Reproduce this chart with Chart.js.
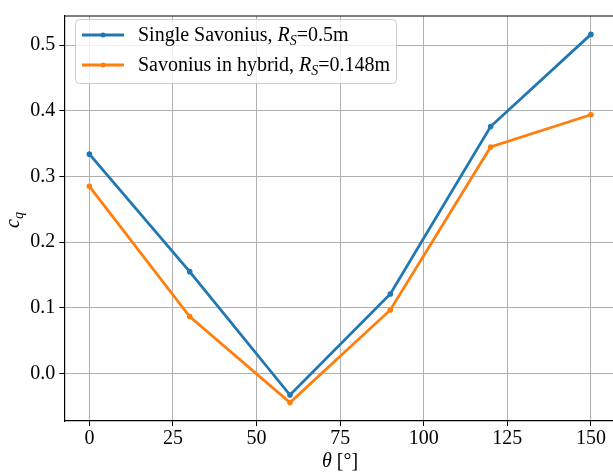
<!DOCTYPE html>
<html>
<head>
<meta charset="utf-8">
<script src="https://cdn.jsdelivr.net/npm/chart.js@4/dist/chart.umd.min.js"></script>
<style>
  html, body { margin: 0; padding: 0; background: #fff; overflow: hidden; }
  canvas { display: block; }
</style>
</head>
<body>
<canvas id="myChart" width="620" height="472"></canvas>
<script>
// datos
const theta = [0, 30, 60, 90, 120, 150];
const cqSingle = [0.334, 0.155, -0.033, 0.121, 0.376, 0.5165];
const cqHybrid = [0.285, 0.0866, -0.0446, 0.0966, 0.345, 0.394];
const xTicks = [0, 25, 50, 75, 100, 125, 150];
const yTicks = [0.0, 0.1, 0.2, 0.3, 0.4, 0.5];
// etiquetas de la leyenda: [texto, estilo]
const labelSingle = [['Single Savonius, ', 'n'], ['R', 'i'], ['S', 'sub'], ['=0.5m', 'n']];
const labelHybrid = [['Savonius in hybrid, ', 'n'], ['R', 'i'], ['S', 'sub'], ['=0.148m', 'n']];

const SERIF = '"Liberation Serif", "DejaVu Serif", serif';
const BLUE = '#1f77b4';
const ORANGE = '#ff7f0e';

function fontFor(style) {
    if (style === 'i') return 'italic 20px ' + SERIF;
    if (style === 'sub') return 'italic 14px ' + SERIF;
    return '20px ' + SERIF;
}

function drawRich(ctx, parts, x, y) {
    ctx.textBaseline = 'alphabetic';
    ctx.textAlign = 'left';
    for (const [txt, style] of parts) {
        ctx.font = fontFor(style);
        ctx.fillText(txt, x, style === 'sub' ? y + 4 : y);
        x += ctx.measureText(txt).width;
    }
}

function richWidth(ctx, parts) {
    let w = 0;
    for (const [txt, style] of parts) {
        ctx.font = fontFor(style);
        w += ctx.measureText(txt).width;
    }
    return w;
}

// leyenda, titulos de ejes y borde superior
const extras = {
    id: 'extras',
    afterDraw(chart) {
        const ctx = chart.ctx;
        const a = chart.chartArea;
        ctx.save();
        // borde superior
        ctx.strokeStyle = '#000';
        ctx.lineWidth = 1.2;
        ctx.beginPath();
        ctx.moveTo(a.left, a.top);
        ctx.lineTo(a.right, a.top);
        ctx.stroke();

        // leyenda
        const bx = 75, by = 19, bw = 321, bh = 64, r = 4;
        ctx.fillStyle = 'rgba(255,255,255,0.8)';
        ctx.strokeStyle = '#cccccc';
        ctx.lineWidth = 1;
        ctx.beginPath();
        ctx.roundRect(bx + 0.5, by + 0.5, bw, bh, r);
        ctx.fill();
        ctx.stroke();

        const rows = [[labelSingle, BLUE, 35], [labelHybrid, ORANGE, 65]];
        for (const [parts, color, yy] of rows) {
            ctx.strokeStyle = color;
            ctx.lineWidth = 2.8;
            ctx.beginPath();
            ctx.moveTo(82, yy);
            ctx.lineTo(124, yy);
            ctx.stroke();
            ctx.fillStyle = color;
            ctx.beginPath();
            ctx.arc(103, yy, 2.5, 0, Math.PI * 2);
            ctx.fill();
            ctx.fillStyle = '#000';
            drawRich(ctx, parts, 138, yy + 6);
        }

        // titulo eje x
        ctx.fillStyle = '#000';
        const xTitle = [['\u03b8', 'i'], [' [\u00b0]', 'n']];
        drawRich(ctx, xTitle, 340 - richWidth(ctx, xTitle) / 2, 467);

        // titulo eje y
        const yTitle = [['c', 'i'], ['q', 'sub']];
        ctx.translate(19, 220);
        ctx.rotate(-Math.PI / 2);
        drawRich(ctx, yTitle, -richWidth(ctx, yTitle) / 2, 0);
        ctx.restore();
    }
};

const ctx = document.getElementById('myChart').getContext('2d');
new Chart(ctx, {
    type: 'line',
    data: {
        datasets: [
            {
                label: 'Single Savonius',
                data: theta.map((t, i) => ({ x: t, y: cqSingle[i] })),
                borderColor: BLUE,
                backgroundColor: BLUE,
                borderWidth: 2.8,
                pointRadius: 2.8,
                pointBorderWidth: 0,
                pointHoverRadius: 2.8,
                tension: 0
            },
            {
                label: 'Savonius in hybrid',
                data: theta.map((t, i) => ({ x: t, y: cqHybrid[i] })),
                borderColor: ORANGE,
                backgroundColor: ORANGE,
                borderWidth: 2.8,
                pointRadius: 2.8,
                pointBorderWidth: 0,
                pointHoverRadius: 2.8,
                tension: 0
            }
        ]
    },
    options: {
        responsive: false,
        animation: false,
        layout: { padding: { top: 9, right: 4, left: 0, bottom: 0 } },
        plugins: {
            legend: { display: false },
            tooltip: { enabled: false }
        },
        scales: {
            x: {
                type: 'linear',
                min: -7.5,
                max: 157.5,
                afterBuildTicks: axis => { axis.ticks = xTicks.map(v => ({ value: v })); },
                afterFit: axis => { axis.height = 51; },
                grid: { color: '#b0b0b0', lineWidth: 1, tickColor: '#000', tickLength: 5 },
                border: { color: '#000', width: 1.2 },
                ticks: {
                    color: '#000',
                    padding: 1,
                    maxRotation: 0,
                    font: { family: SERIF, size: 20 }
                }
            },
            y: {
                type: 'linear',
                min: -0.0726,
                max: 0.5445,
                afterBuildTicks: axis => { axis.ticks = yTicks.map(v => ({ value: v })); },
                afterFit: axis => { axis.width = 64.3; },
                grid: { color: '#b0b0b0', lineWidth: 1, tickColor: '#000', tickLength: 5 },
                border: { color: '#000', width: 1.2 },
                ticks: {
                    color: '#000',
                    padding: 4,
                    font: { family: SERIF, size: 20 },
                    callback: v => v.toFixed(1)
                }
            }
        }
    },
    plugins: [extras]
});
</script>
</body>
</html>
